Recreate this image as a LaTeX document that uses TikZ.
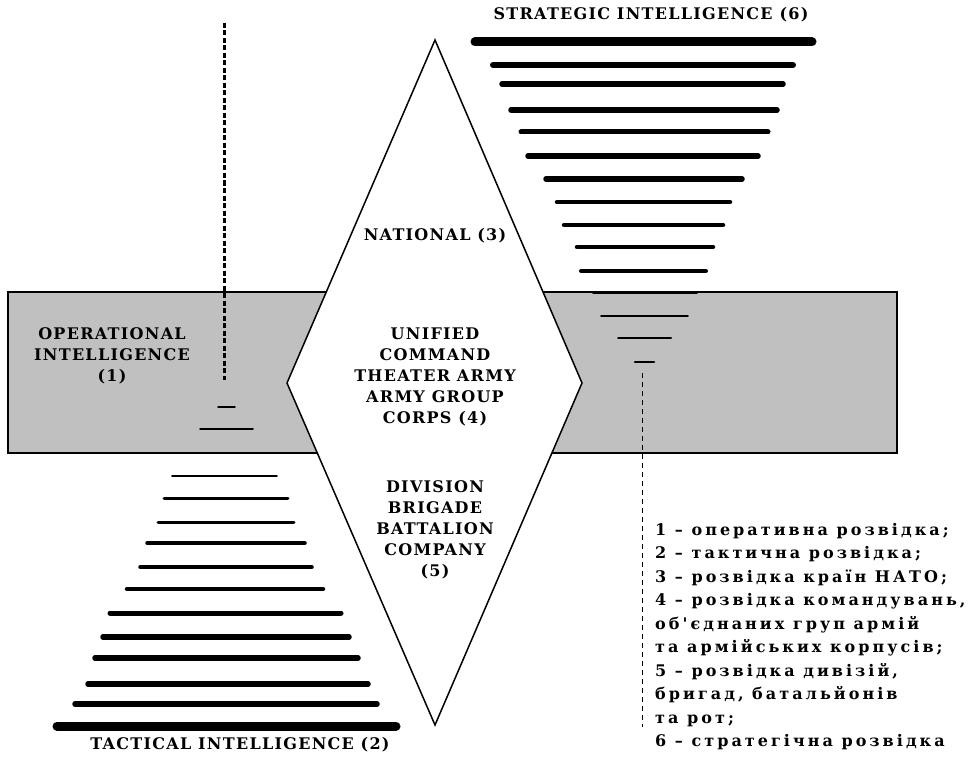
\documentclass[tikz,border=0pt]{standalone}
\usepackage{fontspec}
\usetikzlibrary{positioning}
\newfontfamily\diagfont[LetterSpace=8, BoldFont={DejaVu Serif Bold}]{DejaVu Serif}
\newfontfamily\legendfont[LetterSpace=19, BoldFont={DejaVu Serif Bold}]{DejaVu Serif}
\definecolor{panelgray}{RGB}{192,192,192}

\begin{document}
\begin{tikzpicture}[
        x=1pt, y=-1pt,
        level/.style={font=\diagfont\bfseries\fontsize{16}{21}\selectfont, align=center, inner sep=0pt},
        legend/.style={font=\legendfont\bfseries\fontsize{16}{23.5}\selectfont, align=left, inner sep=0pt},
        bar/.style={line cap=round, draw=black},
        band/.style={draw=black, fill=panelgray, line width=1.5pt},
        rhomb/.style={draw=black, fill=white, line width=1.5pt, line join=miter}
    ]
        \useasboundingbox (0,0) rectangle (980,757);

        % Operational band
        \draw[band] (8,292) rectangle (897,453);

        % Strategic levels (y / left / right / width)
        \foreach \y/\xa/\xb/\w in {42/475/812/9, 65/493/793/6, 84/502/783/5.5, 110/511/777/5.5,
                132/521/768/5, 156/528/758/5.5, 179/546/742/5.5, 202/557/730/4.5, 225/564/723/4.5,
                247/577/713/4.5, 271/581/706/4, 293/593/697/1.8, 316/601/688/1.8, 338/618/671/2,
                362/635/654/2.5}
            \draw[bar, line width=\w pt] (\xa,\y) -- (\xb,\y);

        % Tactical levels
        \foreach \y/\xa/\xb/\w in {476/172/277/1.8, 498/164/288/3, 522/158/294/3, 543/147/305/3.5,
                567/140/312/3.5, 589/127/323/4.5, 613/110/341/5, 637/103/349/5.5, 658/95/358/5.5,
                684/88/368/5.5, 704/75/377/5.5, 726/57/396/9}
            \draw[bar, line width=\w pt] (\xa,\y) -- (\xb,\y);

        % Operational levels
        \draw[bar, line width=1.5pt] (218,407) -- (235,407);
        \draw[bar, line width=1.5pt] (200,429) -- (253,429);

        % Command hierarchy
        \draw[rhomb] (435,40) coordinate (apex) -- (582,383) coordinate (east)
            -- (435,725) coordinate (foot) -- (287,383) coordinate (west) -- cycle;

        % Dashed guides
        \coordinate (optop) at (224,23);
        \coordinate (opend) at (224,380);
        \coordinate (sttop) at (642,373);
        \coordinate (stend) at (642,727);
        \draw[line width=3pt, dash pattern=on 5pt off 2.5pt] (optop) -- (opend);
        \draw[line width=1pt, dash pattern=on 5pt off 4pt] (sttop) -- (stend);

        \node[level] (strategic) at (651,15) {STRATEGIC INTELLIGENCE (6)};
        \node[level] (tactical) at (240,745) {TACTICAL INTELLIGENCE (2)};
        \node[level] (operational) at (112,356) {OPERATIONAL\\INTELLIGENCE\\(1)};
        \node[level] (national) at (435,236) {NATIONAL (3)};
        \node[level] (corps) at (435,377) {UNIFIED\\COMMAND\\THEATER ARMY\\ARMY GROUP\\CORPS (4)};
        \node[level] (division) at (435,530) {DIVISION\\BRIGADE\\BATTALION\\COMPANY\\(5)};

        \node[legend, anchor=north west] (key) at (655,523) {1 – оперативна розвідка;\\
            2 – тактична розвідка;\\3 – розвідка країн НАТО;\\4 – розвідка командувань,\\
            об'єднаних груп армій\\та армійських корпусів;\\5 – розвідка дивізій,\\
            бригад, батальйонів\\та рот;\\6 – стратегічна розвідка};
    \end{tikzpicture}
\end{document}
